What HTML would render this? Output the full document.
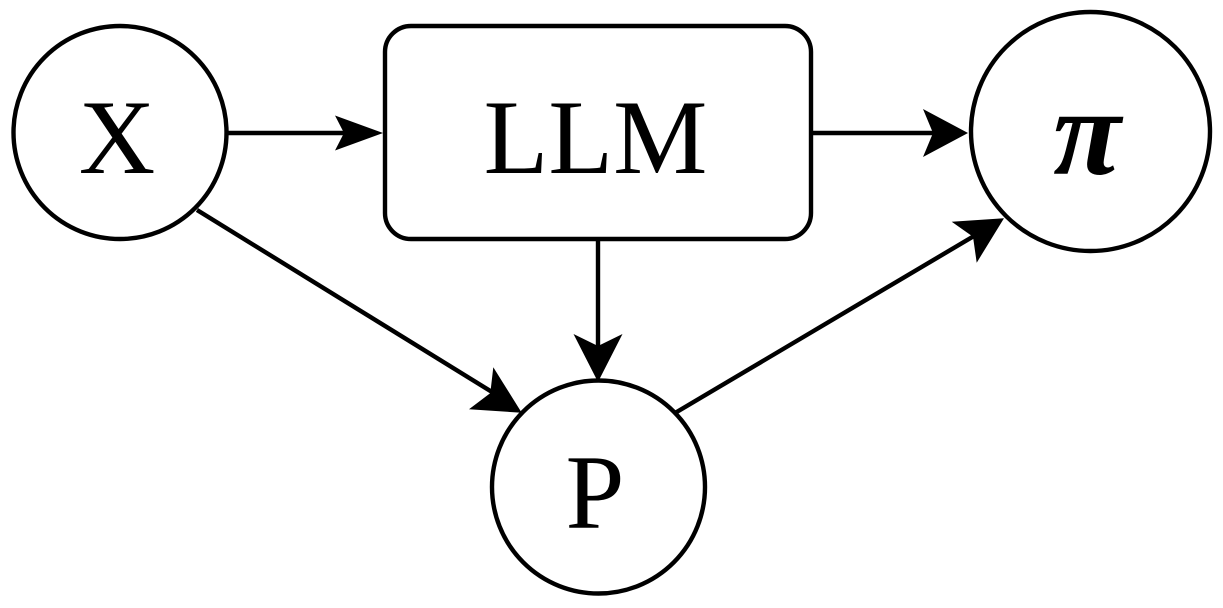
<!DOCTYPE html>
<html>
<head>
<meta charset="utf-8">
<style>
html,body{margin:0;padding:0;background:#fff;}
svg{display:block;}
.t{font-family:"Liberation Serif","Tinos","Times New Roman","Nimbus Roman","Nimbus Roman No9 L","FreeSerif",Times,serif;fill:#000;}
</style>
</head>
<body>
<svg width="1223" height="608" viewBox="0 0 1223 608" xmlns="http://www.w3.org/2000/svg">
<rect width="1223" height="608" fill="#fff"/>
<g fill="none" stroke="#000" stroke-width="4.4">
<circle cx="120" cy="132.5" r="106.5"/>
<circle cx="598.5" cy="487" r="106.5"/>
<circle cx="1090.5" cy="131.5" r="119.5"/>
<rect x="385" y="26" width="426" height="213" rx="26" ry="26"/>
<line x1="228" y1="133" x2="346" y2="133"/>
<line x1="813" y1="133" x2="935" y2="133"/>
<line x1="598" y1="241" x2="598" y2="350"/>
<line x1="197" y1="210" x2="492" y2="392"/>
<line x1="675" y1="413" x2="974" y2="236"/>
</g>
<g fill="#000" stroke="none">
<polygon points="383,133 335,115.5 344,133 335,150.5"/>
<polygon points="968,133 923,109 933,133 923,157"/>
<polygon points="598,382 573.5,334 598,346 622.5,334"/>
<polygon points="521.7,412.7 493.3,367.3 490.3,393.1 469,409.3"/>
<polygon points="1004,218.3 951.7,221.7 973,236.7 976.7,262.7"/>
</g>
<text class="t" x="117" y="173" font-size="106" text-anchor="middle">X</text>
<text class="t" x="595.5" y="173" font-size="106" text-anchor="middle">LLM</text>
<text class="t" x="595" y="528" font-size="106" text-anchor="middle">P</text>
<text class="t" x="1087" y="174" font-size="124" font-weight="bold" font-style="italic" text-anchor="middle">π</text>
</svg>
</body>
</html>
